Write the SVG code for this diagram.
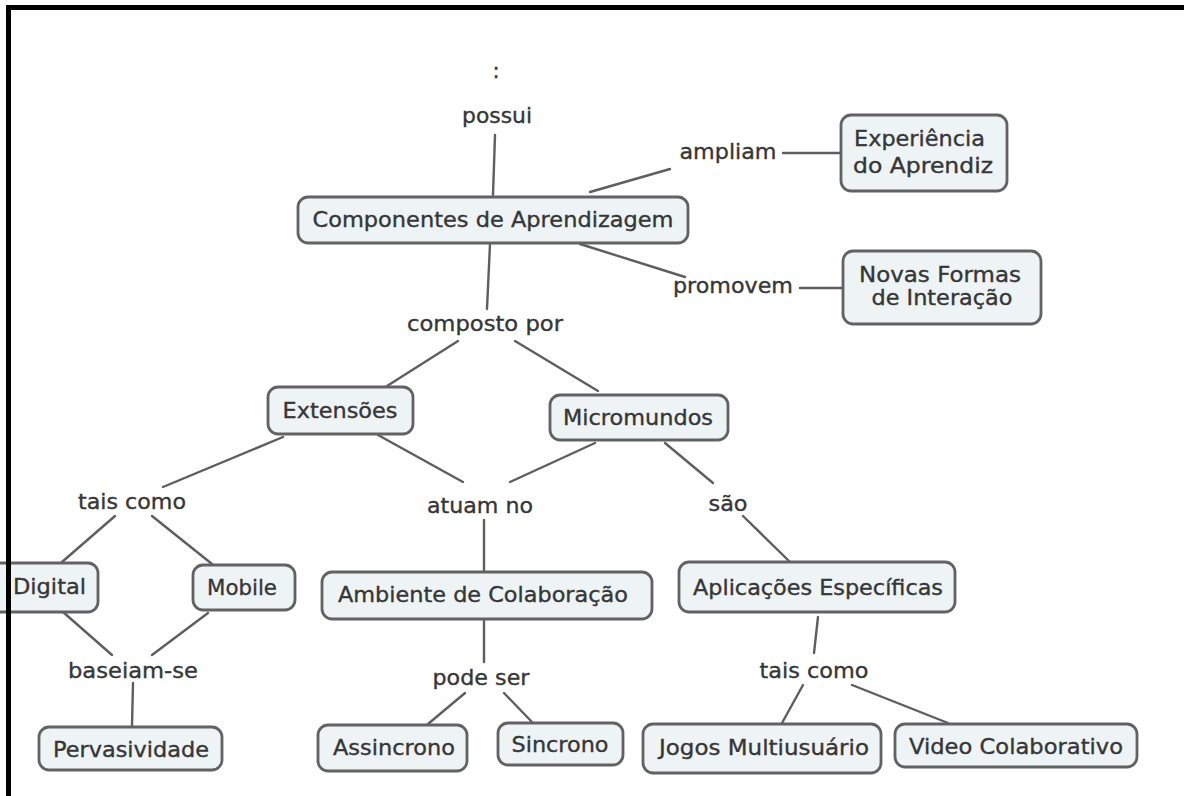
<svg xmlns="http://www.w3.org/2000/svg" width="1184" height="796" viewBox="0 0 1184 796">
<style>
  .node rect { fill: #eef3f5; stroke: #626262; stroke-width: 2.8; }
  text { font-family: "DejaVu Sans", Verdana, sans-serif; font-size: 21px; fill: #363636; stroke: #363636; stroke-width: 0.35; }
  .c { text-anchor: middle; }
  #connectors line { stroke: #5e5e5e; stroke-width: 2.4; stroke-linecap: round; }
</style>
<rect x="0" y="0" width="1184" height="796" fill="#ffffff"/>

<g id="connectors">
  <line x1="495" y1="135" x2="493" y2="195"/>
  <line x1="670" y1="169" x2="590" y2="192"/>
  <line x1="783" y1="153" x2="840" y2="153"/>
  <line x1="580" y1="244" x2="685" y2="277"/>
  <line x1="800" y1="288" x2="843" y2="288"/>
  <line x1="490" y1="244" x2="487" y2="309"/>
  <line x1="458" y1="341" x2="387" y2="386"/>
  <line x1="515" y1="341" x2="598" y2="391"/>
  <line x1="283" y1="437" x2="163" y2="487"/>
  <line x1="378" y1="435" x2="463" y2="482"/>
  <line x1="595" y1="443" x2="510" y2="482"/>
  <line x1="665" y1="443" x2="713" y2="483"/>
  <line x1="115" y1="516" x2="62" y2="562"/>
  <line x1="152" y1="516" x2="212" y2="564"/>
  <line x1="63" y1="612" x2="112" y2="655"/>
  <line x1="208" y1="613" x2="152" y2="655"/>
  <line x1="133" y1="683" x2="132" y2="726"/>
  <line x1="484" y1="520" x2="484" y2="572"/>
  <line x1="484" y1="619" x2="484" y2="662"/>
  <line x1="465" y1="693" x2="428" y2="724"/>
  <line x1="504" y1="693" x2="532" y2="722"/>
  <line x1="743" y1="516" x2="789" y2="561"/>
  <line x1="818" y1="617" x2="814" y2="653"/>
  <line x1="803" y1="685" x2="782" y2="723"/>
  <line x1="852" y1="685" x2="948" y2="723"/>
</g>

<g id="labels">
  <text class="c" x="496" y="78">:</text>
  <text class="c" x="497" y="123" textLength="70" lengthAdjust="spacingAndGlyphs">possui</text>
  <text class="c" x="728" y="159" textLength="97" lengthAdjust="spacingAndGlyphs">ampliam</text>
  <text class="c" x="733" y="293" textLength="120" lengthAdjust="spacingAndGlyphs">promovem</text>
  <text class="c" x="485" y="331" textLength="156" lengthAdjust="spacingAndGlyphs">composto por</text>
  <text class="c" x="132" y="509" textLength="108" lengthAdjust="spacingAndGlyphs">tais como</text>
  <text class="c" x="480" y="513" textLength="106" lengthAdjust="spacingAndGlyphs">atuam no</text>
  <text class="c" x="728" y="511" textLength="39" lengthAdjust="spacingAndGlyphs">são</text>
  <text class="c" x="133" y="678" textLength="130" lengthAdjust="spacingAndGlyphs">baseiam-se</text>
  <text class="c" x="481" y="685" textLength="97" lengthAdjust="spacingAndGlyphs">pode ser</text>
  <text class="c" x="814" y="678" textLength="109" lengthAdjust="spacingAndGlyphs">tais como</text>
</g>

<g id="n-componentes" class="node">
  <rect x="298" y="197" width="390" height="46" rx="10"/>
  <text class="c" x="493" y="227" textLength="361" lengthAdjust="spacingAndGlyphs">Componentes de Aprendizagem</text>
</g>
<g id="n-experiencia" class="node">
  <rect x="841" y="115" width="166" height="76" rx="10"/>
  <text x="854" y="146" textLength="131" lengthAdjust="spacingAndGlyphs">Experiência</text>
  <text x="853" y="173" textLength="140" lengthAdjust="spacingAndGlyphs">do Aprendiz</text>
</g>
<g id="n-novas" class="node">
  <rect x="843" y="251" width="198" height="73" rx="10"/>
  <text class="c" x="940" y="282" textLength="162" lengthAdjust="spacingAndGlyphs">Novas Formas</text>
  <text class="c" x="942" y="305" textLength="141" lengthAdjust="spacingAndGlyphs">de Interação</text>
</g>
<g id="n-extensoes" class="node">
  <rect x="268" y="387" width="145" height="47" rx="10"/>
  <text class="c" x="340" y="418" textLength="115" lengthAdjust="spacingAndGlyphs">Extensões</text>
</g>
<g id="n-micromundos" class="node">
  <rect x="550" y="395" width="178" height="45" rx="10"/>
  <text class="c" x="638" y="425" textLength="150" lengthAdjust="spacingAndGlyphs">Micromundos</text>
</g>
<g id="n-digital" class="node">
  <rect x="-10" y="563" width="108" height="49" rx="10"/>
  <text x="13" y="594" textLength="73" lengthAdjust="spacingAndGlyphs">Digital</text>
</g>
<g id="n-mobile" class="node">
  <rect x="193" y="565" width="102" height="45" rx="10"/>
  <text class="c" x="242" y="595" textLength="70" lengthAdjust="spacingAndGlyphs">Mobile</text>
</g>
<g id="n-pervasividade" class="node">
  <rect x="39" y="727" width="183" height="43" rx="10"/>
  <text class="c" x="131" y="757" textLength="156" lengthAdjust="spacingAndGlyphs">Pervasividade</text>
</g>
<g id="n-ambiente" class="node">
  <rect x="322" y="572" width="330" height="47" rx="10"/>
  <text class="c" x="483" y="602" textLength="290" lengthAdjust="spacingAndGlyphs">Ambiente de Colaboração</text>
</g>
<g id="n-assincrono" class="node">
  <rect x="318" y="725" width="149" height="46" rx="10"/>
  <text class="c" x="394" y="755" textLength="122" lengthAdjust="spacingAndGlyphs">Assincrono</text>
</g>
<g id="n-sincrono" class="node">
  <rect x="498" y="723" width="125" height="42" rx="10"/>
  <text class="c" x="560" y="752" textLength="97" lengthAdjust="spacingAndGlyphs">Sincrono</text>
</g>
<g id="n-aplicacoes" class="node">
  <rect x="679" y="562" width="276" height="50" rx="10"/>
  <text class="c" x="818" y="595" textLength="250" lengthAdjust="spacingAndGlyphs">Aplicações Específicas</text>
</g>
<g id="n-jogos" class="node">
  <rect x="643" y="724" width="238" height="49" rx="10"/>
  <text class="c" x="764" y="755" textLength="210" lengthAdjust="spacingAndGlyphs">Jogos Multiusuário</text>
</g>
<g id="n-video" class="node">
  <rect x="895" y="724" width="242" height="43" rx="10"/>
  <text class="c" x="1016" y="754" textLength="214" lengthAdjust="spacingAndGlyphs">Video Colaborativo</text>
</g>

<g id="frame">
  <rect x="6" y="5" width="1178" height="5" fill="#000"/>
  <rect x="6" y="5" width="5" height="791" fill="#000"/>
</g>
</svg>
